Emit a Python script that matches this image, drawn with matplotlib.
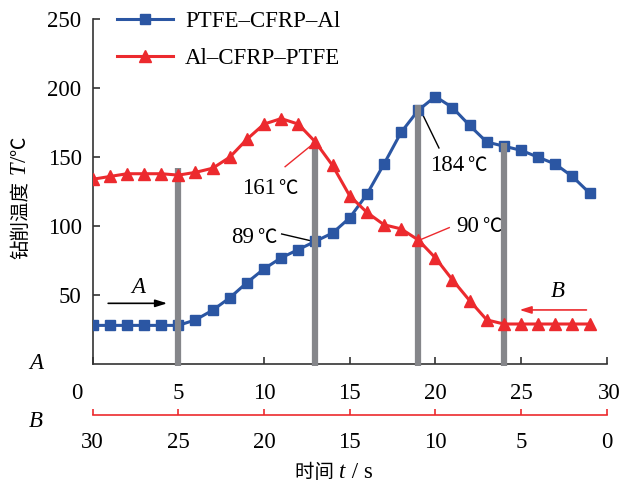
import numpy as np
import matplotlib
matplotlib.use('Agg')
import matplotlib.pyplot as plt
from matplotlib.transforms import ScaledTranslation
from matplotlib.offsetbox import TextArea, HPacker, AnnotationBbox

plt.rcParams['font.family'] = ['Liberation Serif', 'Noto Sans CJK SC']

# data
t = np.arange(0, 30)
ptfe_cfrp_al = [28, 28, 28, 28, 28, 28, 32, 39, 48, 59, 69, 77, 83, 89, 95,
                106, 123, 145, 168, 184, 194, 186, 173, 161, 158, 155, 150, 145, 136, 124]
al_cfrp_ptfe = [134, 136, 138, 138, 138, 137, 139, 142, 150, 163, 174, 178, 174, 161, 144,
                122, 110, 101, 98, 90, 77, 61, 46, 32, 29, 29, 29, 29, 29, 29]
bar_t = [5, 13, 19, 24]
bar_top = [142, 161, 188, 160]
xticks_a = [0, 5, 10, 15, 20, 25, 30]
xticks_b = [30, 25, 20, 15, 10, 5, 0]
yticks = [50, 100, 150, 200, 250]

blue = '#2b56a3'
red = '#ec2a2e'
gray = '#85868a'
dark = '#333333'
fs = 16.5     # latin text
fs_cjk = 14   # chinese glyphs and the degree sign

fig = plt.figure(figsize=(6.23, 4.83), dpi=100)
ax = fig.add_axes([0.1488, 0.2464, 0.825, 0.7136])

ax.plot(t, ptfe_cfrp_al, color=blue, lw=2.2, marker='s', ms=7, label='PTFE–CFRP–Al', zorder=3)
ax.vlines(bar_t, -1.5, bar_top, color=gray, lw=4.5, zorder=4, clip_on=False)
ax.plot(t, al_cfrp_ptfe, color=red, lw=2.2, marker='^', ms=9, label='Al–CFRP–PTFE', zorder=5)

ax.set_xlim(0, 30)
ax.set_ylim(0, 250)
for s in ['top', 'right']:
    ax.spines[s].set_visible(False)
for s in ['left', 'bottom']:
    ax.spines[s].set_color(dark)
    ax.spines[s].set_linewidth(1.2)

ax.set_xticks(xticks_a)
ax.set_yticks(yticks)
ax.tick_params(axis='both', direction='in', length=5, width=1.2, color=dark, labelsize=fs)
ax.tick_params(axis='x', pad=14)
ax.tick_params(axis='y', pad=8)
xl = ax.get_xticklabels()
xl[0].set_transform(xl[0].get_transform() + ScaledTranslation(-0.16, 0, fig.dpi_scale_trans))
xl[-1].set_transform(xl[-1].get_transform() + ScaledTranslation(0.03, 0, fig.dpi_scale_trans))

# second time axis (B direction)
sec = ax.secondary_xaxis(-0.149, functions=(lambda x: 30 - x, lambda x: 30 - x))
sec.set_xticks(xticks_b)
sec.spines['bottom'].set_color(red)
sec.spines['bottom'].set_linewidth(1.2)
sec.tick_params(direction='in', length=4.5, width=1.2, color=red, labelcolor='black', labelsize=fs, pad=12)


def mixed(parts, sep=0):
    # parts: (text, size, style) pieces sharing one baseline
    return HPacker(children=[TextArea(s, textprops=dict(fontsize=z, style=st)) for s, z, st in parts],
                   align='baseline', pad=0, sep=sep)


def put(parts, xy, coords='data', sep=0):
    ab = AnnotationBbox(mixed(parts, sep), xy, xycoords=coords, frameon=False, box_alignment=(0.5, 0.5),
                        annotation_clip=False)
    ax.add_artist(ab)


# y axis title, pieced upward so T can be italic
yl1 = fig.text(0.0337, 1 - 259 / 483, '钻削温度', rotation=90, fontsize=fs_cjk, ha='center', va='bottom')
ya = ax.annotate(' T', xy=(0.5, 1), xycoords=yl1, rotation=90, fontsize=fs, style='italic',
                 ha='center', va='bottom')
yb = ax.annotate('/', xy=(0.5, 1), xycoords=ya, rotation=90, fontsize=fs, ha='center', va='bottom')
ax.annotate('℃', xy=(0.5, 1), xycoords=yb, rotation=90, fontsize=fs_cjk, ha='center', va='bottom')

put([('时间 ', fs_cjk, 'normal'), ('t', fs, 'italic'), (' / s', fs, 'normal')],
    (334 / 623, 1 - 472 / 483), 'figure fraction')

fig.text(0.0578, 0.2464, 'A', style='italic', fontsize=fs, ha='center', va='center')
fig.text(0.0578, 0.1269, 'B', style='italic', fontsize=fs, ha='center', va='center')

# annotations
deg = ('℃', fs_cjk, 'normal')
ax.plot([11.23, 13], [143.1, al_cfrp_ptfe[13]], color=red, lw=1)
put([('161', fs, 'normal'), deg], (10.35, 127.6), sep=2)
ax.plot([11.03, 12.86], [94.3, ptfe_cfrp_al[13]], color='black', lw=1)
put([('89', fs, 'normal'), deg], (9.41, 92.1), sep=2)
ax.plot([19.14, 20.21], [ptfe_cfrp_al[19], 156.7], color='black', lw=1)
put([('184', fs, 'normal'), deg], (21.32, 143.8), sep=2)
ax.plot([20.81, 19.1], [98.9, al_cfrp_ptfe[19]], color=red, lw=1)
put([('90', fs, 'normal'), deg], (22.55, 99.6), sep=2)

ax.annotate('', xy=(4.51, 44), xytext=(0.74, 44),
            arrowprops=dict(arrowstyle='-|>,head_length=0.7,head_width=0.22', color='black', lw=1.2))
ax.text(2.65, 55.6, 'A', style='italic', fontsize=fs, ha='center', va='center')
ax.annotate('', xy=(24.75, 39.2), xytext=(28.98, 39.2),
            arrowprops=dict(arrowstyle='-|>,head_length=0.7,head_width=0.22', color=red, lw=1.2))
ax.text(27.16, 52.4, 'B', style='italic', fontsize=fs, ha='center', va='center')

ax.legend(loc='upper left', bbox_to_anchor=(116.7 / 623, 1 - 11 / 483), bbox_transform=fig.transFigure,
          frameon=False, fontsize=fs, handlelength=2.47, handletextpad=0.51, labelspacing=0.69,
          borderpad=0, borderaxespad=0)

fig.savefig('out.png', dpi=100)
